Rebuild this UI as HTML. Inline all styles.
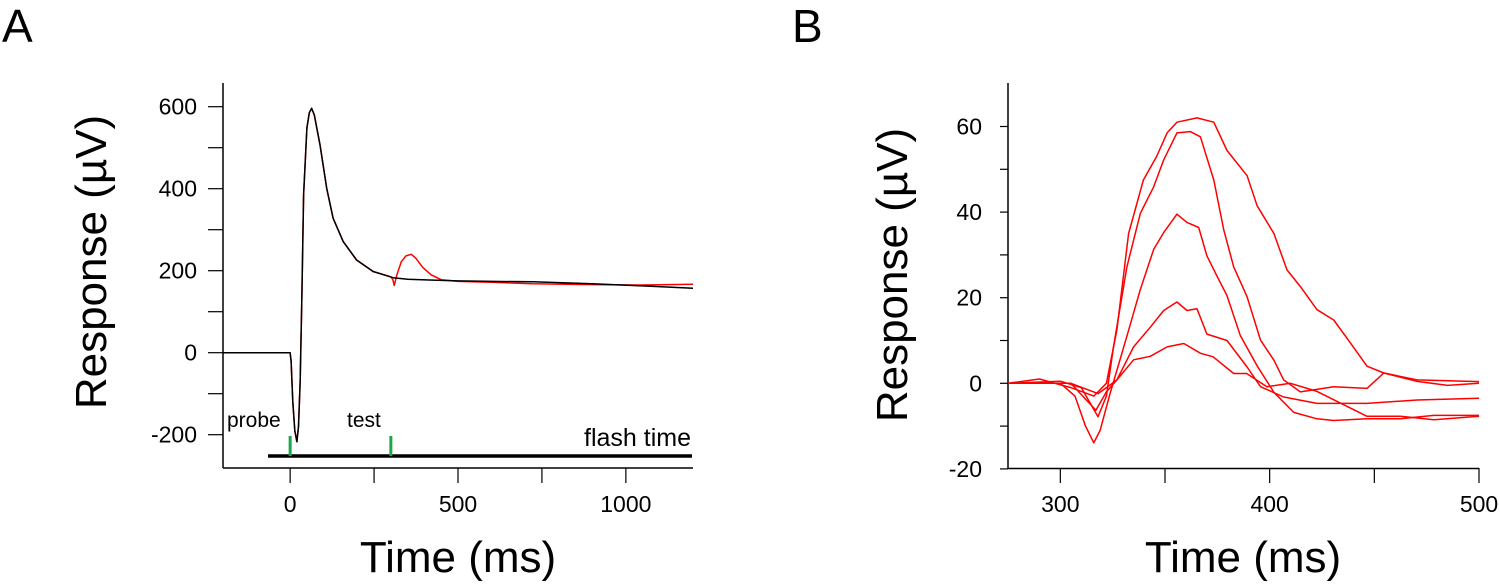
<!DOCTYPE html>
<html><head><meta charset="utf-8"><style>
body{margin:0;background:#fff}
svg{display:block}
text{font-family:"Liberation Sans",Arial,sans-serif;fill:#000}
</style></head><body>
<svg id="fig" width="1500" height="587" viewBox="0 0 1500 587" xmlns="http://www.w3.org/2000/svg">
<text x="2" y="42" font-size="46">A</text>
<text x="792" y="42" font-size="46">B</text>
<g id="A"></g>
<g id="B"></g>
</svg>
<script>
// ---- Panel A data ----
const aBlackT = [-200,-100,0,3,8,14,20,25,30,35,40,50,57,64,72,89,109,128,158,198,247,307,350,425,500,600,722,900,1050,1200];
const aBlackV = [0,0,0,-20,-120,-190,-217,-180,-67,141,385,548,585,596,580,507,401,328,271,226,198,183,179,177,175,174,173,168,163,157];
const aRedT = [-200,-100,0,3,8,14,20,25,30,35,40,50,57,64,72,89,109,128,158,198,247,300,306,310,318,331,345,361,375,395,420,450,500,600,722,900,1050,1200];
const aRedV = [0,0,0,-20,-120,-190,-217,-180,-67,141,385,548,585,596,580,507,401,328,271,226,198,185,178,164,190,222,236,240,230,208,190,178,174,172,168,166,165,167];
const aXTicks = [0,500,1000];
const aYTicks = [-200,0,200,400,600];
// ---- Panel B data ----
const bT1 = [275,290,305,316,322,327,332.6,339.7,346,351,355.7,365.3,373.3,379.6,389.2,394,402,408.3,414.7,422.6,430.6,438.6,446.5,454.5,470,485,500];
const bV1 = [0,1,-1,-3,0,12.5,35,47.5,53,58.5,61,62,61,54.4,48.5,41.5,35,26.5,22.6,17.2,14.8,9.4,4,2.4,0.5,-0.5,0];
const bT2 = [275,300,310,318,322,325.4,331.8,338.2,344.6,349.4,355.7,362.1,366.9,373.3,378.1,382.8,389.2,395.6,402,406.7,414.7,430.6,446.5,454.5,470.4,500];
const bV2 = [0,0.5,-1,-7.8,-3,8.5,27.2,39.7,45.9,52.2,58.5,58.8,57.6,47.5,35.8,27.2,20.2,10.1,5.4,0.8,-2,-0.8,-1.2,2.4,0.8,0.4];
const bT3 = [275,300,307,312,316,319,323.8,331.8,338.2,344.6,349.4,355.7,360.5,366.1,370,374.8,379.6,386,394,402,411.5,422.6,430.6,446.5,462.5,478.4,500];
const bV3 = [0,0,-3,-10,-13.9,-11,-2.3,11,21.9,31.3,35.2,39.5,37.6,36.4,29.8,25.1,20.5,11.1,4.1,-2.1,-6.8,-8.3,-8.7,-8.3,-8.3,-7.5,-7.5];
const bT4 = [275,305,317,322,327,335,343,349.4,355.7,360.5,365.3,370,379.6,389.2,395.6,406.7,422.6,446.5,470.4,500];
const bV4 = [0,0,-6.3,-2,0.8,8.5,13.1,17,19,17,17.4,11.5,10,3.8,-0.8,-3.2,-4.7,-4.7,-3.9,-3.5];
const bT5 = [275,305,318,322,327,335,343,351,359,367,373,382.8,389,398.7,409.9,422.6,446.5,462.5,478.4,500];
const bV5 = [0,0,-2.4,-1,0.8,5.5,6.3,8.5,9.3,7,6.2,2.3,2.3,-0.8,0,-1.9,-7.7,-7.7,-8.5,-7.7];
const bXTicks = [300,400,500];
const bXMinor = [350,450];
const bYTicks = [-20,0,20,40,60];

const NS="http://www.w3.org/2000/svg";
function mk(parent,tag,attrs){const e=document.createElementNS(NS,tag);for(const k in attrs)e.setAttribute(k,attrs[k]);parent.appendChild(e);return e;}
function lin(d0,d1,r0,r1){return v=>r0+(v-d0)*(r1-r0)/(d1-d0);}
function pathOf(T,V,sx,sy){return T.map((t,i)=>(i?'L':'M')+sx(t).toFixed(1)+','+sy(V[i]).toFixed(1)).join('');}

// Panel A
const gA=document.getElementById('A');
const ax=lin(-200,1200,223,693), ay=lin(0,600,352.7,106.7);
let e;
e=mk(gA,'line',{x1:223,y1:83,x2:223,y2:468,stroke:'#000','stroke-width':1.5});

e=mk(gA,'line',{x1:223,y1:468,x2:693,y2:468,stroke:'#000','stroke-width':1.5});

for(let v=-200;v<=600;v+=100){e=mk(gA,'line',{x1:208,x2:223,y1:ay(v),y2:ay(v),stroke:'#000','stroke-width':1.2});
}
aYTicks.forEach(v=>{e=mk(gA,'text',{x:197,y:ay(v)+8,'font-size':23,'text-anchor':'end'});e.textContent=v;
});
for(let t=0;t<=1000;t+=250){e=mk(gA,'line',{x1:ax(t),x2:ax(t),y1:468,y2:483,stroke:'#000','stroke-width':1.2});
}
aXTicks.forEach(t=>{e=mk(gA,'text',{x:ax(t),y:512,'font-size':23,'text-anchor':'middle'});e.textContent=t;
});
e=mk(gA,'text',{x:0,y:0,'font-size':44,'text-anchor':'middle',transform:'translate(106,262) rotate(-90)'});e.textContent='Response (\u00b5V)';

e=mk(gA,'text',{x:458,y:572,'font-size':44,'text-anchor':'middle'});e.textContent='Time (ms)';

e=mk(gA,'path',{d:pathOf(aRedT,aRedV,ax,ay),fill:'none',stroke:'#f00','stroke-width':1.5,'stroke-linejoin':'round'});

e=mk(gA,'path',{d:pathOf(aBlackT,aBlackV,ax,ay),fill:'none',stroke:'#000','stroke-width':1.5,'stroke-linejoin':'round'});

e=mk(gA,'line',{x1:268,x2:692,y1:456,y2:456,stroke:'#000','stroke-width':3.5});

[[0,'probe-marker'],[300,'test-marker']].forEach(([t,n])=>{e=mk(gA,'line',{x1:ax(t),x2:ax(t),y1:436,y2:456,stroke:'#1aa84a','stroke-width':3});
});
e=mk(gA,'text',{x:227,y:427,'font-size':21});e.textContent='probe';

e=mk(gA,'text',{x:347,y:427,'font-size':21});e.textContent='test';

e=mk(gA,'text',{x:691,y:446,'font-size':25,'text-anchor':'end'});e.textContent='flash time';


// Panel B
const gB=document.getElementById('B');
const bx=lin(275,500,1008,1479), by=lin(-20,70,468.9,83.7);
e=mk(gB,'line',{x1:1008,y1:83,x2:1008,y2:469,stroke:'#000','stroke-width':1.5});

e=mk(gB,'line',{x1:1008,y1:468.5,x2:1479,y2:468.5,stroke:'#000','stroke-width':1.5});

for(let v=-20;v<=60;v+=10){e=mk(gB,'line',{x1:1000,x2:1008,y1:by(v),y2:by(v),stroke:'#000','stroke-width':1.2});
}
bYTicks.forEach(v=>{e=mk(gB,'text',{x:982,y:by(v)+8,'font-size':23,'text-anchor':'end'});e.textContent=v;
});
bXTicks.concat(bXMinor).forEach(t=>{e=mk(gB,'line',{x1:bx(t),x2:bx(t),y1:468,y2:483,stroke:'#000','stroke-width':1.2});
});
bXTicks.forEach(t=>{e=mk(gB,'text',{x:bx(t),y:512,'font-size':23,'text-anchor':'middle'});e.textContent=t;
});
e=mk(gB,'text',{x:0,y:0,'font-size':44,'text-anchor':'middle',transform:'translate(907,275) rotate(-90)'});e.textContent='Response (\u00b5V)';

e=mk(gB,'text',{x:1243,y:572,'font-size':44,'text-anchor':'middle'});e.textContent='Time (ms)';

[[bT1,bV1],[bT2,bV2],[bT3,bV3],[bT4,bV4],[bT5,bV5]].forEach(([T,V],i)=>{
e=mk(gB,'path',{d:pathOf(T,V,bx,by),fill:'none',stroke:'#f00','stroke-width':1.5,'stroke-linejoin':'round'});

});
</script>
</body></html>
